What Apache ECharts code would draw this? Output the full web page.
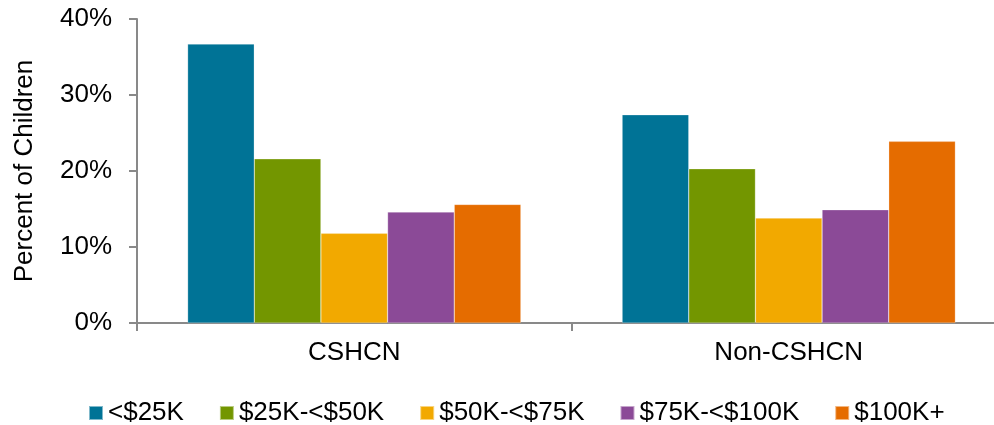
<!DOCTYPE html>
<html>
<head>
<meta charset="utf-8">
<script src="https://cdn.jsdelivr.net/npm/echarts@6/dist/echarts.min.js"></script>
<style>
  html, body { margin: 0; padding: 0; background: #fff; }
  #chart { width: 994px; height: 425px; }
</style>
</head>
<body>
<div id="chart"></div>
<script>
const categories = ['CSHCN', 'Non-CSHCN'];
const incomeGroups = ['<$25K', '$25K-<$50K', '$50K-<$75K', '$75K-<$100K', '$100K+'];
const under25 = [36.7, 27.4];
const from25to50 = [21.6, 20.3];
const from50to75 = [11.8, 13.8];
const from75to100 = [14.6, 14.9];
const over100 = [15.6, 23.9];
const yTicks = [0, 10, 20, 30, 40];

const colors = ['#007396', '#739600', '#F2A900', '#8B4A97', '#E56C00'];
const values = [under25, from25to50, from50to75, from75to100, over100];
const font = 'Arial, "Liberation Sans", sans-serif';

const myChart = echarts.init(document.getElementById('chart'));
const option = {
  color: colors,
  animation: false,
  textStyle: { fontFamily: font, color: '#000' },
  grid: { left: 137, top: 19, width: 869, height: 304, outerBoundsMode: 'none', containLabel: false },
  legend: {
    data: incomeGroups,
    left: 83,
    top: 395,
    icon: 'rect',
    itemWidth: 14,
    itemHeight: 14,
    itemGap: 35,
    textStyle: { fontSize: 26, color: '#000', fontFamily: font },
  },
  xAxis: {
    type: 'category',
    data: categories,
    axisLine: { lineStyle: { color: '#898989', width: 2 } },
    axisTick: { show: true, length: 8, lineStyle: { color: '#898989', width: 2 } },
    axisLabel: { fontSize: 26, color: '#000', margin: 17, fontFamily: font },
  },
  yAxis: {
    type: 'value',
    min: yTicks[0],
    max: yTicks[yTicks.length - 1],
    interval: 10,
    name: 'Percent of Children',
    nameLocation: 'middle',
    nameGap: 99,
    nameTextStyle: { fontSize: 26, color: '#000', fontFamily: font },
    axisLine: { show: true, lineStyle: { color: '#898989', width: 2 } },
    axisTick: { show: true, length: 8, lineStyle: { color: '#898989', width: 2 } },
    splitLine: { show: false },
    axisLabel: { fontSize: 26, color: '#000', margin: 25, formatter: '{value}%', fontFamily: font },
  },
  series: incomeGroups.map((name, i) => ({
    name: name,
    type: 'bar',
    data: values[i],
    barGap: '0%',
    barCategoryGap: '23.3%',
    itemStyle: { borderColor: 'rgba(255,255,255,0.5)', borderWidth: 0.5 },
  })),
};
myChart.setOption(option);
</script>
</body>
</html>
